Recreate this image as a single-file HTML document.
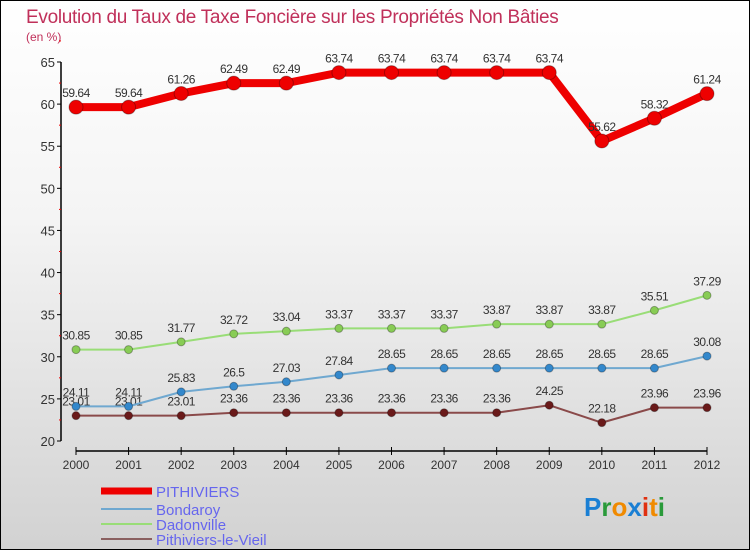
<!DOCTYPE html>
<html><head><meta charset="utf-8"><style>
body{margin:0;width:750px;height:550px;overflow:hidden}
#c{position:relative;width:748px;height:548px;border:1px solid #000;background:linear-gradient(#fff 0%,#f4f4f4 40%,#d2d2d2 100%)}
text{font-family:"Liberation Sans",sans-serif}
</style></head><body>
<div id="c">
<svg id="s" width="748" height="548" xmlns="http://www.w3.org/2000/svg">
<text x="25" y="22" font-size="19" letter-spacing="-0.3" fill="#c0305a">Evolution du Taux de Taxe Foncière sur les Propriétés Non Bâties</text>
<text x="25" y="40" font-size="12" fill="#c0305a">(en %)</text>
<g id="axes"></g><g id="series"></g><g id="legend"></g>
<g font-size="26" font-weight="bold">
<text x="583" y="515"><tspan fill="#1a7fd4">P</tspan><tspan fill="#2a9a3a">r</tspan><tspan fill="#f08a00">o</tspan><tspan fill="#1a7fd4">x</tspan><tspan fill="#e03010">i</tspan><tspan fill="#f08a00">t</tspan><tspan fill="#2a9a3a">i</tspan></text>
</g>
</svg></div>
<script>
const years=["2000","2001","2002","2003","2004","2005","2006","2007","2008","2009","2010","2011","2012"];
const pithiviers=[59.64,59.64,61.26,62.49,62.49,63.74,63.74,63.74,63.74,63.74,55.62,58.32,61.24];
const bondaroy=[24.11,24.11,25.83,26.5,27.03,27.84,28.65,28.65,28.65,28.65,28.65,28.65,30.08];
const dadonville=[30.85,30.85,31.77,32.72,33.04,33.37,33.37,33.37,33.87,33.87,33.87,35.51,37.29];
const vieil=[23.01,23.01,23.01,23.36,23.36,23.36,23.36,23.36,23.36,24.25,22.18,23.96,23.96];
const yTicks=[20,25,30,35,40,45,50,55,60,65];
const NS="http://www.w3.org/2000/svg";
const xs=i=>75+i*(706-75)/(years.length-1);
const ys=v=>440-(v-20)*(440-61)/45;
function mk(t,a,p){const e=document.createElementNS(NS,t);for(const k in a)e.setAttribute(k,a[k]);p.appendChild(e);return e;}
const ax=document.getElementById('axes');
let l=mk('line',{x1:60,y1:61,x2:60,y2:440,stroke:'#000','stroke-width':1.5},ax);


yTicks.forEach(v=>{
 mk('line',{x1:56,x2:60,y1:ys(v),y2:ys(v),stroke:'#000'},ax);
 mk('line',{x1:58,x2:60,y1:ys(v+2.5),y2:ys(v+2.5),stroke:'#e00'},ax);
 const t=mk('text',{x:54,y:ys(v)+5,'font-size':13,fill:'#333','text-anchor':'end'},ax);t.textContent=v;
 
 
});
l=mk('line',{x1:75,y1:450,x2:706,y2:450,stroke:'#000','stroke-width':1.5},ax);


years.forEach((y,i)=>{
 mk('line',{x1:xs(i),x2:xs(i),y1:446,y2:454,stroke:'#000'},ax);
 const t=mk('text',{x:xs(i),y:468,'font-size':12,fill:'#333','text-anchor':'middle'},ax);t.textContent=y;
 
 
});
const sg=document.getElementById('series');
function draw(d,name,col,w,r,dot){
 const g=mk('g',{},sg);
 
 
 mk('polyline',{points:d.map((v,i)=>xs(i)+','+ys(v)).join(' '),fill:'none',stroke:col,'stroke-width':w,'stroke-linejoin':'round'},g);
 d.forEach((v,i)=>{
  const c=mk('circle',{cx:xs(i),cy:ys(v),r:r,fill:dot,stroke:'rgba(0,0,0,0.3)'},g);
  
  
  const t=mk('text',{x:xs(i),y:ys(v)-10,'font-size':12,fill:'#333','text-anchor':'middle','letter-spacing':'-0.5'},g);t.textContent=v;
  
  
 });
}
draw(vieil,'pithiviers-le-vieil','#8a4a4a',2,4,'#6a1a1a');
draw(dadonville,'dadonville','#99dd77',2,4,'#88cc55');
draw(bondaroy,'bondaroy','#6fa8d0',2,4,'#3388cc');
draw(pithiviers,'pithiviers','#ee0000',8,7,'#ee0000');
const lg=document.getElementById('legend');
[["PITHIVIERS","#ee0000",7,490],["Bondaroy","#6fa8d0",2,508],["Dadonville","#99dd77",2,523],["Pithiviers-le-Vieil","#8a6060",2,538]].forEach(e=>{
 const g=mk('g',{},lg);
 
 
 mk('line',{x1:100,x2:151,y1:e[3],y2:e[3],stroke:e[1],'stroke-width':e[2]},g);
 const t=mk('text',{x:155,y:e[3]+6,'font-size':15,fill:'#6666ee'},g);t.textContent=e[0];
});
</script>
</body></html>
